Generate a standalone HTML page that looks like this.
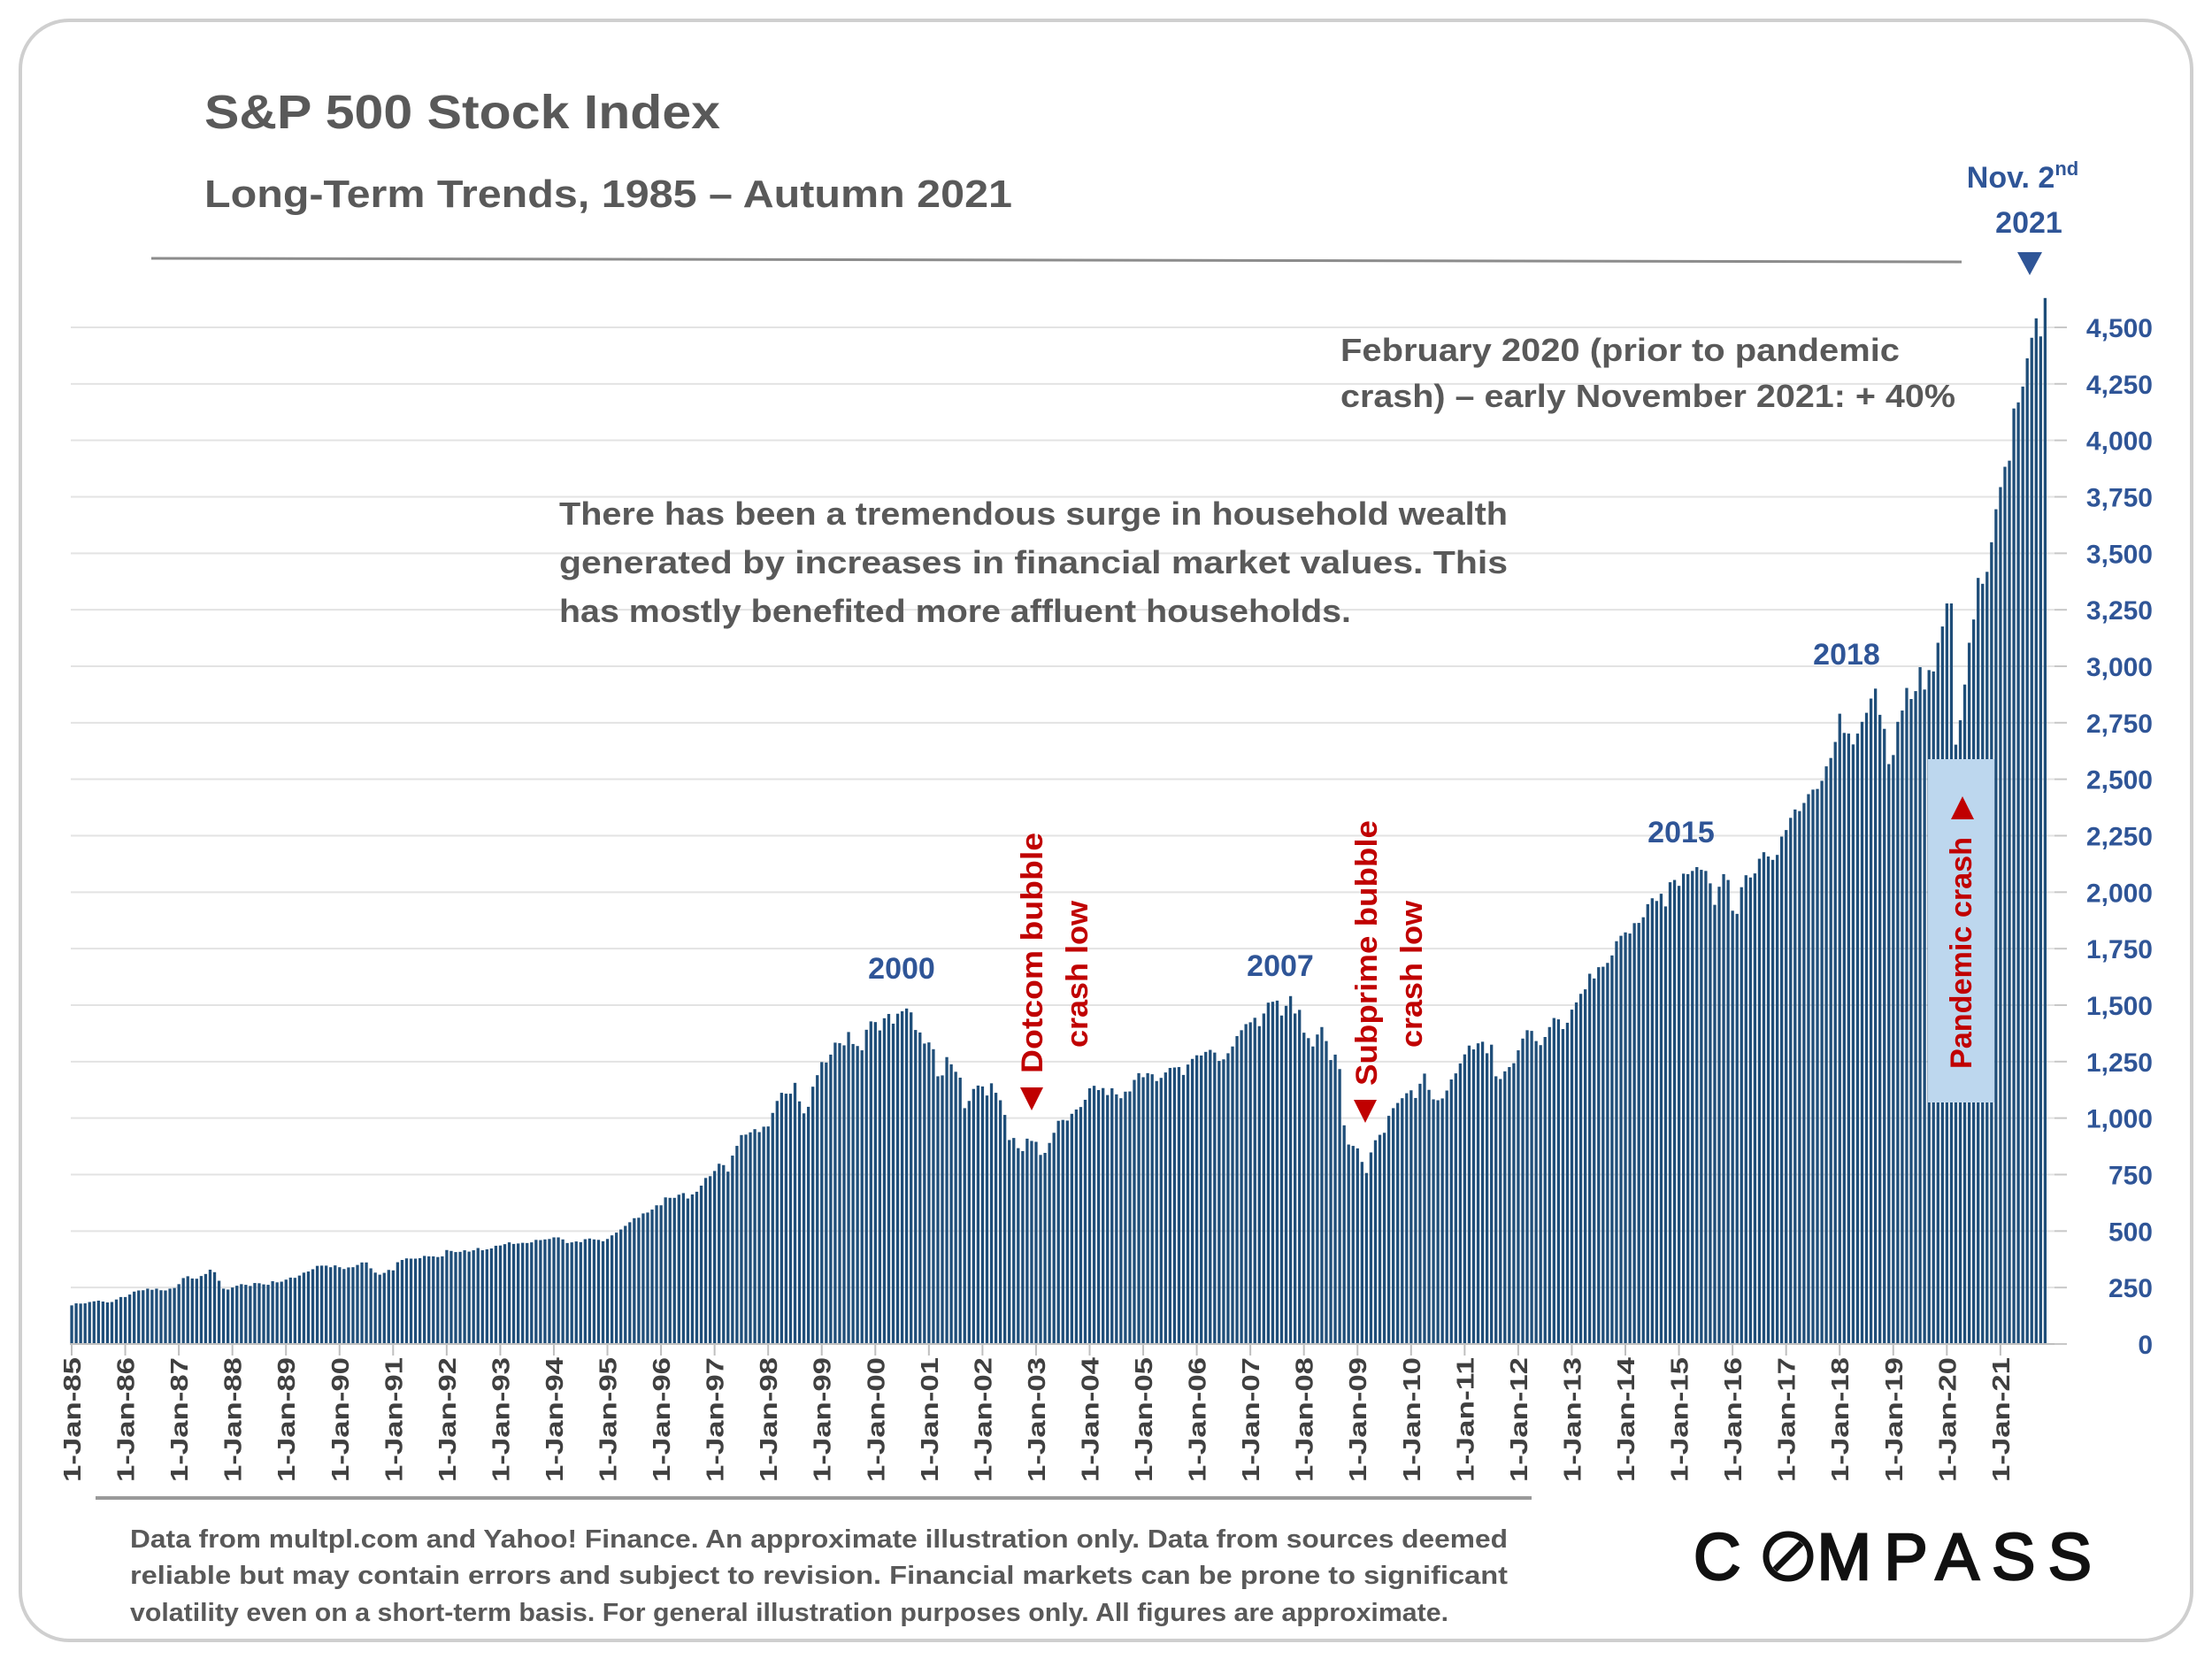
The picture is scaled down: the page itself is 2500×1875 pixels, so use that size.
<!DOCTYPE html>
<html><head><meta charset="utf-8"><style>
html,body{margin:0;padding:0;background:#fff;}
svg{display:block;}
text{font-family:"Liberation Sans",sans-serif;font-weight:bold;}
</style></head><body>
<svg id="chart" width="2500" height="1875" viewBox="0 0 2500 1875" xmlns="http://www.w3.org/2000/svg">
<rect x="23" y="23" width="2454" height="1831" rx="55" fill="#fff" stroke="#cfcfcf" stroke-width="4"/>
<text x="231" y="145" font-size="54" fill="#595959" textLength="583" lengthAdjust="spacingAndGlyphs">S&amp;P 500 Stock Index</text>
<text x="231" y="234" font-size="44" fill="#595959" textLength="913" lengthAdjust="spacingAndGlyphs">Long-Term Trends, 1985 – Autumn 2021</text>
<line x1="171" y1="292" x2="2217" y2="296" stroke="#8c8c8c" stroke-width="3"/>
<g id="grid"></g>
<g id="bars"></g>
<g id="xaxis"></g>
<g id="yaxis"></g>
<rect x="2179" y="858" width="75" height="388" fill="#BDD7EE"/>
<text transform="translate(2228,1077) rotate(-90)" text-anchor="middle" font-size="34" fill="#C00000" textLength="262" lengthAdjust="spacingAndGlyphs">Pandemic crash</text>
<polygon points="2205,926 2231,926 2218,900" fill="#C00000"/>
<text transform="translate(1178,1077) rotate(-90)" text-anchor="middle" font-size="34" fill="#C00000" textLength="272" lengthAdjust="spacingAndGlyphs">Dotcom bubble</text>
<text transform="translate(1229,1101) rotate(-90)" text-anchor="middle" font-size="34" fill="#C00000" textLength="166" lengthAdjust="spacingAndGlyphs">crash low</text>
<polygon points="1153,1229 1179,1229 1166,1255" fill="#C00000"/>
<text transform="translate(1556,1077) rotate(-90)" text-anchor="middle" font-size="34" fill="#C00000" textLength="300" lengthAdjust="spacingAndGlyphs">Subprime bubble</text>
<text transform="translate(1607,1101) rotate(-90)" text-anchor="middle" font-size="34" fill="#C00000" textLength="166" lengthAdjust="spacingAndGlyphs">crash low</text>
<polygon points="1530,1243 1556,1243 1543,1269" fill="#C00000"/>
<g fill="#2F5597" font-size="34" text-anchor="middle">
<text x="1019" y="1106">2000</text>
<text x="1447" y="1103">2007</text>
<text x="1900" y="952">2015</text>
<text x="2087" y="751">2018</text>
<text x="2286" y="212">Nov. 2<tspan font-size="22" dy="-14">nd</tspan></text>
<text x="2293" y="263">2021</text>
</g>
<polygon points="2280,285 2308,285 2294,311" fill="#2F5597"/>
<g fill="#595959" font-size="36">
<text x="1515" y="408" textLength="632" lengthAdjust="spacingAndGlyphs">February 2020 (prior to pandemic</text>
<text x="1515" y="460" textLength="695" lengthAdjust="spacingAndGlyphs">crash) – early November 2021: + 40%</text>
<text x="632" y="593" textLength="1072" lengthAdjust="spacingAndGlyphs">There has been a tremendous surge in household wealth</text>
<text x="632" y="648" textLength="1072" lengthAdjust="spacingAndGlyphs">generated by increases in financial market values. This</text>
<text x="632" y="703" textLength="895" lengthAdjust="spacingAndGlyphs">has mostly benefited more affluent households.</text>
</g>
<line x1="108" y1="1693" x2="1731" y2="1693" stroke="#9a9a9a" stroke-width="4"/>
<g fill="#595959" font-size="29">
<text x="147" y="1749" textLength="1557" lengthAdjust="spacingAndGlyphs">Data from multpl.com and Yahoo! Finance. An approximate illustration only. Data from sources deemed</text>
<text x="147" y="1790" textLength="1557" lengthAdjust="spacingAndGlyphs">reliable but may contain errors and subject to revision. Financial markets can be prone to significant</text>
<text x="147" y="1832" textLength="1490" lengthAdjust="spacingAndGlyphs">volatility even on a short-term basis. For general illustration purposes only. All figures are approximate.</text>
</g>
<g>
<text x="1914" y="1785" font-size="74" fill="#111" stroke="#111" stroke-width="2.5" textLength="450" lengthAdjust="spacing" style="font-weight:normal">C<tspan fill="#fff" stroke="none">O</tspan>MPASS</text>
<circle cx="2021" cy="1759" r="25" fill="none" stroke="#111" stroke-width="7"/>
<line x1="2006" y1="1774" x2="2036" y2="1744" stroke="#111" stroke-width="7"/>
</g>
</svg>
<script>
const years=[1985,1986,1987,1988,1989,1990,1991,1992,1993,1994,1995,1996,1997,1998,1999,2000,2001,2002,2003,2004,2005,2006,2007,2008,2009,2010,2011,2012,2013,2014,2015,2016,2017,2018,2019,2020,2021];
const v1985=[171,180,179,180,186,189,192,188,184,186,197,208];
const v1986=[208,219,232,237,238,245,240,245,238,237,245,248];
const v1987=[265,292,300,290,289,301,310,329,318,280,245,241];
const v1988=[250,258,265,262,257,270,269,264,262,278,273,276];
const v1989=[285,294,293,303,316,321,331,346,347,347,340,348];
const v1990=[340,332,339,340,350,361,361,335,316,307,315,328];
const v1991=[326,362,372,379,378,378,380,390,388,388,385,388];
const v1992=[416,412,407,408,415,409,415,425,415,419,423,435];
const v1993=[436,442,450,443,445,448,447,450,461,460,463,465];
const v1994=[472,472,463,447,450,454,451,464,467,463,461,455];
const v1995=[465,481,493,507,523,539,557,559,578,582,595,614];
const v1996=[614,649,647,647,661,668,644,662,674,701,735,743];
const v1997=[766,798,792,763,834,877,925,927,937,951,938,962];
const v1998=[963,1023,1076,1112,1108,1108,1156,1074,1021,1050,1139,1190];
const v1999=[1248,1246,1281,1334,1332,1322,1381,1328,1319,1300,1391,1428];
const v2000=[1425,1388,1442,1461,1418,1462,1473,1485,1468,1390,1379,1330];
const v2001=[1335,1305,1185,1189,1270,1238,1205,1179,1044,1076,1129,1144];
const v2002=[1140,1100,1154,1112,1079,1014,903,912,867,854,909,899];
const v2003=[895,837,846,890,935,988,992,989,1019,1038,1049,1081];
const v2004=[1132,1143,1124,1133,1102,1132,1105,1088,1117,1118,1169,1199];
const v2005=[1181,1199,1194,1164,1178,1202,1222,1224,1226,1191,1237,1262];
const v2006=[1278,1277,1293,1302,1290,1253,1260,1287,1317,1363,1389,1416];
const v2007=[1424,1444,1407,1463,1511,1515,1520,1454,1497,1540,1463,1479];
const v2008=[1378,1354,1317,1370,1403,1341,1257,1281,1217,968,883,877];
const v2009=[866,806,757,848,902,926,935,1010,1044,1067,1088,1110];
const v2010=[1123,1089,1152,1197,1125,1083,1079,1087,1122,1171,1198,1242];
const v2011=[1282,1321,1304,1331,1338,1287,1325,1185,1173,1207,1226,1243];
const v2012=[1300,1352,1389,1386,1341,1323,1359,1403,1443,1437,1394,1422];
const v2013=[1480,1512,1550,1570,1639,1618,1668,1670,1687,1720,1783,1807];
const v2014=[1822,1817,1863,1864,1889,1947,1973,1961,1993,1937,2044,2054];
const v2015=[2028,2082,2080,2094,2111,2099,2094,2039,1944,2024,2080,2054];
const v2016=[1918,1904,2022,2075,2065,2083,2148,2177,2158,2143,2165,2246];
const v2017=[2275,2329,2366,2359,2395,2434,2454,2457,2493,2557,2594,2665];
const v2018=[2790,2705,2702,2654,2702,2754,2794,2857,2901,2785,2723,2567];
const v2019=[2607,2754,2804,2904,2855,2890,2996,2897,2983,2977,3104,3176];
const v2020=[3278,3278,2653,2761,2919,3104,3207,3391,3365,3418,3549,3695];
const v2021=[3793,3883,3910,4141,4168,4238,4363,4454,4540,4460,4630];
const yTicks=[0,250,500,750,1000,1250,1500,1750,2000,2250,2500,2750,3000,3250,3500,3750,4000,4250,4500];
const yTickLabels=["0","250","500","750","1,000","1,250","1,500","1,750","2,000","2,250","2,500","2,750","3,000","3,250","3,500","3,750","4,000","4,250","4,500"];
const series=[v1985,v1986,v1987,v1988,v1989,v1990,v1991,v1992,v1993,v1994,v1995,v1996,v1997,v1998,v1999,v2000,v2001,v2002,v2003,v2004,v2005,v2006,v2007,v2008,v2009,v2010,v2011,v2012,v2013,v2014,v2015,v2016,v2017,v2018,v2019,v2020,v2021];

const NS="http://www.w3.org/2000/svg";
const X0=81, MONTH=5.046, Y0=1519, YK=(1519-370)/4500;
function xScale(i){return X0+i*MONTH;}
function yScale(v){return Y0-v*YK;}
function mk(tag,attrs,parent){const e=document.createElementNS(NS,tag);for(const k in attrs)e.setAttribute(k,attrs[k]);parent.appendChild(e);return e;}

const grid=document.getElementById('grid'), yax=document.getElementById('yaxis');
yTicks.forEach((t,i)=>{
  const y=yScale(t);
  if(t>0){
    const g=mk('line',{x1:80,y1:y,x2:2322,y2:y,stroke:'#e3e3e3','stroke-width':2},grid);
    
    
  }
  const tk=mk('line',{x1:2322,y1:y,x2:2336,y2:y,stroke:'#c8c8c8','stroke-width':2},yax);
  
  
  const lb=mk('text',{x:2433,y:y+11,'text-anchor':'end','font-size':30,fill:'#2F5597'},yax);
  lb.textContent=yTickLabels[i];
  
  
});

const bars=document.getElementById('bars');
let idx=0;
series.forEach(arr=>arr.forEach(v=>{
  const x=xScale(idx);
  const b=mk('rect',{x:x-1.6,y:yScale(v),width:3.3,height:Y0-yScale(v),fill:'#1F4E79'},bars);
  
  
  idx++;
}));

const xax=document.getElementById('xaxis');
const ax=mk('line',{x1:79,y1:Y0,x2:2322,y2:Y0,stroke:'#bfbfbf','stroke-width':2},xax);


years.forEach((yr,i)=>{
  const x=xScale(i*12);
  const tk=mk('line',{x1:x,y1:Y0,x2:x,y2:Y0+13,stroke:'#bfbfbf','stroke-width':2},xax);
  
  
  const lb=mk('text',{transform:'translate('+(x+10)+',1534) rotate(-90)','text-anchor':'end','font-size':28,fill:'#404040',textLength:141,lengthAdjust:'spacingAndGlyphs'},xax);
  lb.textContent='1-Jan-'+String(yr).slice(2);
  
  
});
</script>
</body></html>
